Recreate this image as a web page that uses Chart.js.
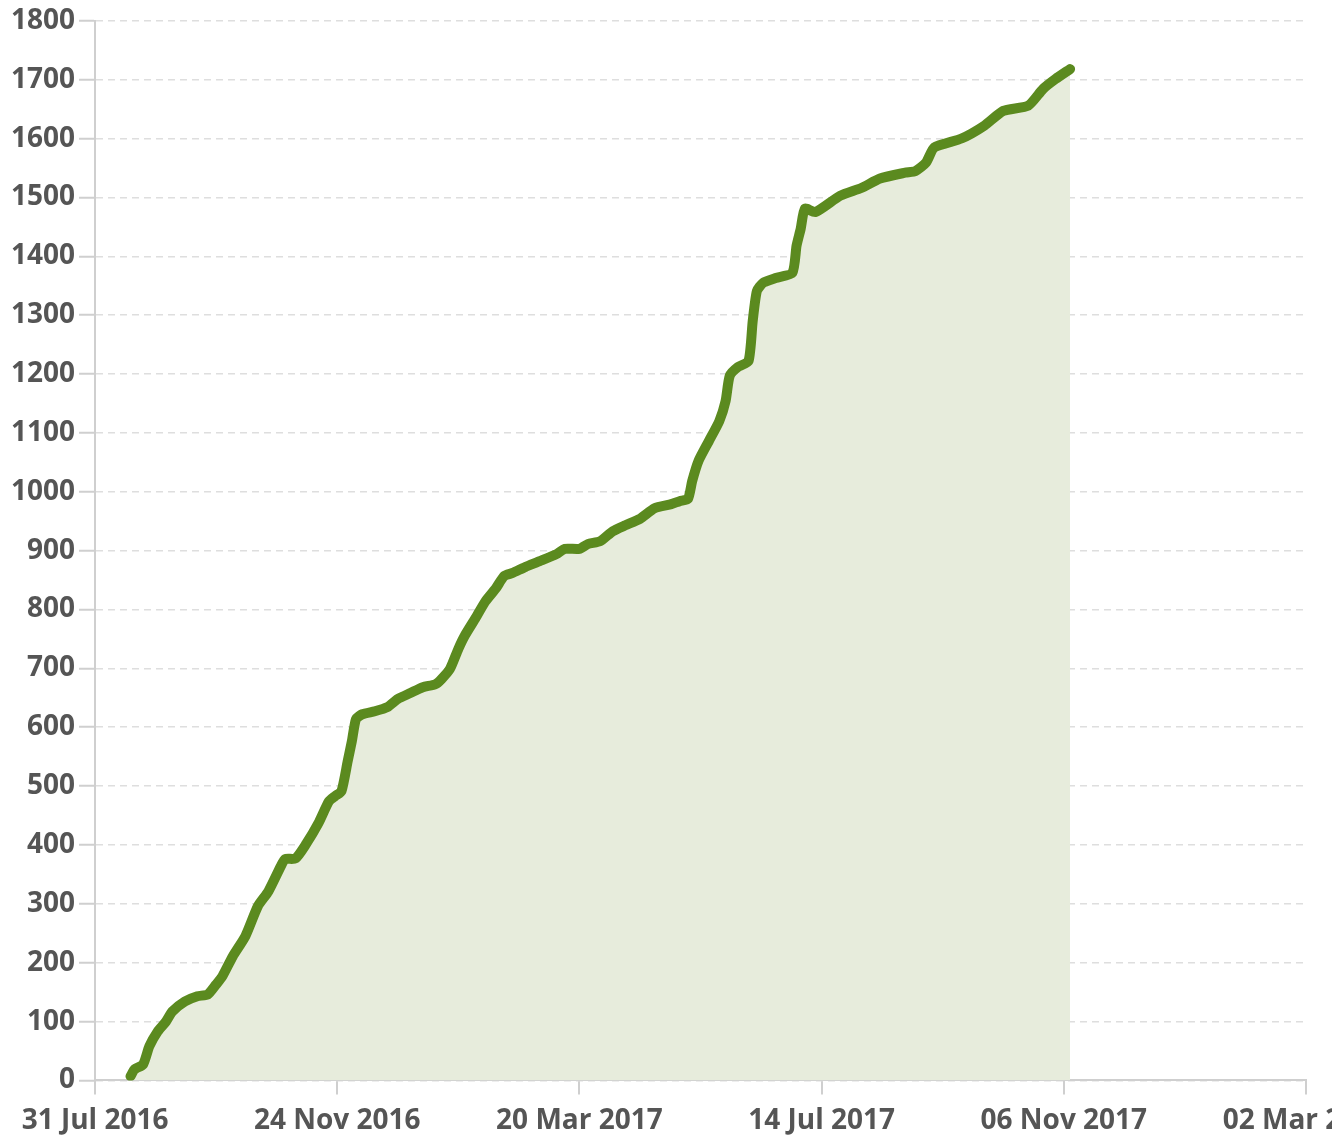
<!DOCTYPE html>
<html>
<head>
<meta charset="utf-8">
<script src="https://cdn.jsdelivr.net/npm/chart.js@4.4.1/dist/chart.umd.min.js"></script>
<style>
  html, body { margin: 0; padding: 0; background: #fff; overflow: hidden; }
  #wrap { position: relative; width: 1400px; height: 1148px; }
</style>
</head>
<body>
<div id="wrap"><canvas id="chart"></canvas></div>
<script>
// x axis: days since 31 Jul 2016
const tickDays   = [0, 116, 232, 348, 464, 580];
const tickLabels = ["31 Jul 2016", "24 Nov 2016", "20 Mar 2017", "14 Jul 2017", "06 Nov 2017", "02 Mar 2018"];

const days = [17,19,23,26,30,34,37,43,49,54,58,61,66,72,78,83,89,91,96,101,
  107,112,115,118,121,123,125,128,134,140,145,151,157,163,166,170,174,177,182,187,
  192,196,200,206,213,221,225,232,236,242,248,254,261,268,276,280,284,286,289,294,
  299,302,304,308,313,315,317,320,326,334,336,338,340,345,357,367,376,388,393,398,
  402,415,426,435,447,454,460,467];

const totals = [7,19,27,58,83,100,117,134,143,146,163,177,211,245,296,321,364,376,377,401,
  437,474,483,491,542,576,614,622,627,634,648,658,668,673,682,699,733,755,784,814,
  836,857,862,872,882,894,903,903,911,916,933,943,954,972,979,984,988,1018,1052,1086,
  1120,1154,1197,1212,1222,1290,1341,1355,1363,1372,1418,1447,1481,1475,1503,1516,1532,1542,1545,1559,
  1585,1600,1622,1647,1656,1684,1701,1718];

const FONT = { family: "'Open Sans', sans-serif", size: 28, weight: "bold" };

new Chart(document.getElementById("chart"), {
  type: "line",
  data: {
    datasets: [{
      data: days.map((d, i) => ({ x: d, y: totals[i] })),
      borderColor: "#5b8a1f",
      borderWidth: 10,
      backgroundColor: "#e7ecdc",
      fill: "origin",
      pointRadius: 0,
      borderJoinStyle: "round",
      borderCapStyle: "round",
      tension: 0.2,
    }],
  },
  options: {
    responsive: true,
    maintainAspectRatio: false,
    animation: false,
    layout: { padding: { left: 7, right: 94, top: 15, bottom: 0 } },
    plugins: { legend: { display: false }, tooltip: { enabled: false } },
    scales: {
      x: {
        type: "linear",
        min: 0,
        max: 580,
        afterBuildTicks: (s) => { s.ticks = tickDays.map((v) => ({ value: v })); },
        ticks: {
          autoSkip: false,
          maxRotation: 0,
          color: "#555",
          font: FONT,
          padding: 10,
          callback: (v) => tickLabels[tickDays.indexOf(v)],
        },
        grid: { drawOnChartArea: false, tickLength: 14, color: "#cfcfcf", lineWidth: 2 },
        border: { color: "#cfcfcf", width: 2 },
      },
      y: {
        min: 0,
        max: 1800,
        ticks: { stepSize: 100, color: "#555", font: FONT, padding: 4, callback: (v) => String(v) },
        grid: { color: "#dedede", lineWidth: 1.5, tickLength: 16, tickColor: "#cfcfcf", tickWidth: 2 },
        border: { color: "#cfcfcf", width: 2, dash: [7, 5] },
      },
    },
  },
});
</script>
</body>
</html>
